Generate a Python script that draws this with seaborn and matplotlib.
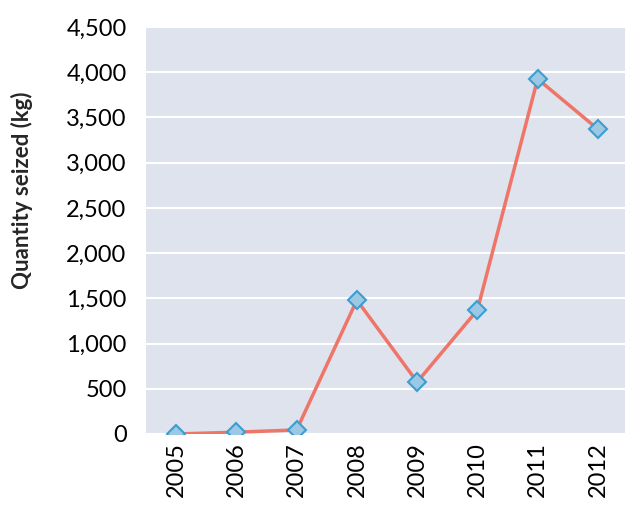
import pandas as pd
import seaborn as sns
import matplotlib.pyplot as plt
from matplotlib.ticker import FuncFormatter

years = ['2005', '2006', '2007', '2008', '2009', '2010', '2011', '2012']
seized_kg = [0, 20, 45, 1480, 575, 1370, 3925, 3370]

data = pd.DataFrame({'Year': years, 'Seized': seized_kg})

sns.set_style("darkgrid", {"axes.facecolor": "#DFE3EE", "grid.color": "white"})
plt.rcParams['font.family'] = ['Lato', 'DejaVu Sans']

fig = plt.figure(figsize=(6.25, 5.05), dpi=100)
ax = fig.add_axes([0.2336, 0.1406, 0.7664, 0.806])

sns.lineplot(data=data, x='Year', y='Seized', ax=ax, color='#EE7568', linewidth=2.5,
             marker='D', markersize=9, markerfacecolor='#9DC8E4',
             markeredgecolor='#3A9FD0', markeredgewidth=1.5, sort=False)

ax.set_ylim(0, 4500)
ax.set_yticks(range(0, 4501, 500))
ax.yaxis.set_major_formatter(FuncFormatter(lambda v, p: f'{int(v):,}'))
ax.set_xlim(-0.5, 7.45)
ax.grid(axis='x', visible=False)
ax.grid(axis='y', linewidth=1.5)
ax.tick_params(axis='both', labelsize=17, colors='black', length=0)
ax.tick_params(axis='y', pad=14)
ax.tick_params(axis='x', pad=6)
plt.setp(ax.get_xticklabels(), rotation=90)
ax.set_xlabel('')
ax.set_ylabel('Quantity seized (kg)', fontsize=16, fontweight='bold')
ax.yaxis.set_label_coords(-0.235, 0.6)
for s in ax.spines.values():
    s.set_visible(False)

fig.savefig('out.png', dpi=100)
